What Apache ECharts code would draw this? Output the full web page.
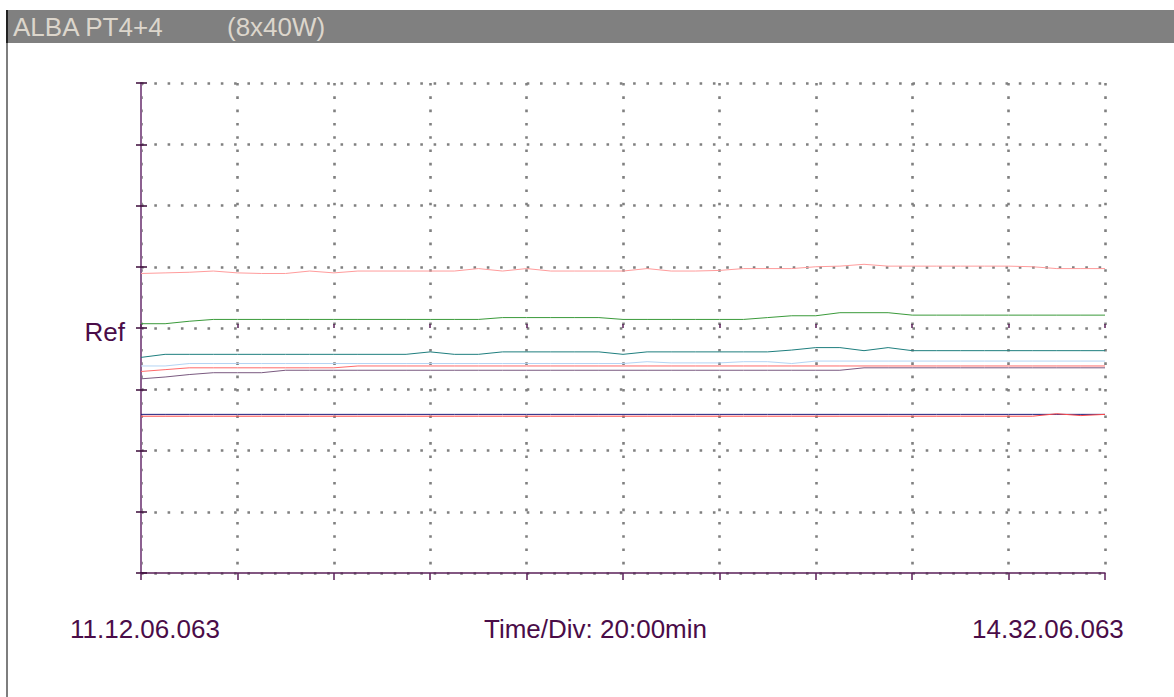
<!DOCTYPE html>
<html>
<head>
<meta charset="utf-8">
<script src="https://cdn.jsdelivr.net/npm/echarts@6/dist/echarts.min.js"></script>
<style>
html,body{margin:0;padding:0;background:#fff;}
#chart{width:1174px;height:697px;}
</style>
</head>
<body>
<div id="chart"></div>
<script>
// Time in minutes from start (11.12.06.063), 5‑minute samples
const minutes = [0,5,10,15,20,25,30,35,40,45,50,55,60,65,70,75,80,85,90,95,100,105,110,115,120,125,130,135,140,145,150,155,160,165,170,175,180,185,190,195,200];

// Trace values in divisions relative to Ref
const tracePink = [0.89,0.90,0.91,0.93,0.90,0.89,0.89,0.93,0.90,0.93,0.93,0.93,0.93,0.93,0.97,0.93,0.97,0.93,0.93,0.93,0.93,0.97,0.93,0.93,0.94,0.97,0.97,0.97,1.00,1.01,1.04,1.01,1.01,1.01,1.01,1.01,1.01,1.00,0.97,0.97,0.97];
const traceGreen = [0.07,0.07,0.11,0.14,0.14,0.14,0.14,0.14,0.14,0.14,0.14,0.14,0.14,0.14,0.14,0.17,0.17,0.17,0.17,0.17,0.14,0.14,0.14,0.14,0.14,0.14,0.17,0.20,0.20,0.25,0.25,0.25,0.21,0.21,0.21,0.21,0.21,0.21,0.21,0.21,0.21];
const traceTeal = [-0.48,-0.43,-0.43,-0.43,-0.43,-0.43,-0.43,-0.43,-0.43,-0.43,-0.43,-0.43,-0.39,-0.43,-0.43,-0.39,-0.39,-0.39,-0.39,-0.39,-0.43,-0.39,-0.39,-0.39,-0.39,-0.39,-0.39,-0.36,-0.32,-0.32,-0.37,-0.32,-0.37,-0.37,-0.37,-0.37,-0.37,-0.37,-0.37,-0.37,-0.37];
const traceLightBlue = [-0.62,-0.62,-0.58,-0.58,-0.58,-0.58,-0.58,-0.58,-0.58,-0.58,-0.58,-0.58,-0.58,-0.58,-0.58,-0.58,-0.58,-0.58,-0.58,-0.58,-0.58,-0.55,-0.57,-0.57,-0.57,-0.55,-0.55,-0.58,-0.54,-0.54,-0.54,-0.54,-0.54,-0.54,-0.54,-0.54,-0.54,-0.54,-0.54,-0.54,-0.54];
const traceRed = [-0.71,-0.68,-0.65,-0.65,-0.65,-0.65,-0.65,-0.65,-0.65,-0.62,-0.62,-0.62,-0.62,-0.62,-0.62,-0.62,-0.62,-0.62,-0.62,-0.62,-0.62,-0.62,-0.62,-0.62,-0.62,-0.62,-0.62,-0.62,-0.62,-0.62,-0.62,-0.62,-0.62,-0.62,-0.62,-0.62,-0.62,-0.62,-0.62,-0.62,-0.62];
const tracePurple = [-0.83,-0.80,-0.76,-0.73,-0.73,-0.73,-0.69,-0.69,-0.69,-0.69,-0.69,-0.69,-0.69,-0.69,-0.69,-0.69,-0.69,-0.69,-0.69,-0.69,-0.69,-0.69,-0.69,-0.69,-0.69,-0.69,-0.69,-0.69,-0.69,-0.69,-0.65,-0.65,-0.65,-0.65,-0.65,-0.65,-0.65,-0.65,-0.65,-0.65,-0.65];
const traceNavy = [-1.41,-1.41,-1.41,-1.41,-1.41,-1.41,-1.41,-1.41,-1.41,-1.41,-1.41,-1.41,-1.41,-1.41,-1.41,-1.41,-1.41,-1.41,-1.41,-1.41,-1.41,-1.41,-1.41,-1.41,-1.41,-1.41,-1.41,-1.41,-1.41,-1.41,-1.41,-1.41,-1.41,-1.41,-1.41,-1.41,-1.41,-1.41,-1.41,-1.41,-1.41];
const traceRedLow = [-1.44,-1.44,-1.44,-1.44,-1.44,-1.44,-1.44,-1.44,-1.44,-1.44,-1.44,-1.44,-1.44,-1.44,-1.44,-1.44,-1.44,-1.44,-1.44,-1.44,-1.44,-1.44,-1.44,-1.44,-1.44,-1.44,-1.44,-1.44,-1.44,-1.44,-1.44,-1.44,-1.44,-1.44,-1.44,-1.44,-1.44,-1.44,-1.40,-1.43,-1.41];

const titleLeft = 'ALBA PT4+4';
const titleRight = '(8x40W)';
const startLabel = '11.12.06.063';
const endLabel = '14.32.06.063';
const divLabel = 'Time/Div: 20:00min';
const refLabel = 'Ref';

const traces = [
  {data: tracePink, color: '#ff9c9c'},
  {data: traceGreen, color: '#3a9a3a'},
  {data: traceTeal, color: '#1e7e7e'},
  {data: traceLightBlue, color: '#b4d4f4'},
  {data: traceRed, color: '#ff6a6a'},
  {data: tracePurple, color: '#7a5a80'},
  {data: traceNavy, color: '#1c1c7c'},
  {data: traceRedLow, color: '#ff4a4a'}
];

const FONT = '"Liberation Sans", Arial, sans-serif';
const TXT = '#4a0c48';
const dotted = {type: [2.6, 10.7], width: 2.6, color: '#808080'};

const chart = echarts.init(document.getElementById('chart'), null, {renderer: 'svg'});
chart.setOption({
  animation: false,
  backgroundColor: '#ffffff',
  grid: {left: 141, right: 69, top: 83, bottom: 124, containLabel: false},
  xAxis: [
    {type: 'value', min: 0, max: 200, interval: 20, position: 'bottom',
     axisLine: {show: true, onZero: false, lineStyle: {color: '#5a1f58', width: 1.5}},
     axisTick: {show: true, length: 7, lineStyle: {color: '#5a1f58', width: 1.5}},
     axisLabel: {show: false},
     splitLine: {show: true, lineStyle: dotted}},
    {type: 'value', min: 0, max: 200, interval: 20, position: 'bottom',
     axisLine: {show: false},
     axisTick: {show: true, inside: true, length: 4, lineStyle: {color: '#5a1f58', width: 1.5}},
     axisLabel: {show: false}, splitLine: {show: false}}
  ],
  yAxis: [
    {type: 'value', min: -4, max: 4, interval: 1, position: 'left',
     axisLine: {show: true, onZero: false, lineStyle: {color: '#8c6090', width: 2}},
     axisTick: {show: true, length: 5, lineStyle: {color: '#3a0a38', width: 1.5}},
     axisLabel: {show: true, margin: 16, color: TXT, fontFamily: FONT, fontSize: 26,
       formatter: v => (v === 0 ? '{r|' + refLabel + '}' : ''),
       rich: {r: {color: TXT, fontFamily: FONT, fontSize: 26, padding: [8, 0, 0, 0]}}},
     splitLine: {show: true, lineStyle: dotted}},
    {type: 'value', min: -4, max: 4, interval: 1, position: 'left',
     axisLine: {show: false},
     axisTick: {show: true, inside: true, length: 6, lineStyle: {color: '#3a0a38', width: 1.5}},
     axisLabel: {show: false}, splitLine: {show: false}}
  ],
  series: traces.map(t => ({
    type: 'line',
    xAxisIndex: 0, yAxisIndex: 0,
    data: minutes.map((m, i) => [m, t.data[i]]),
    showSymbol: false,
    symbol: 'none',
    lineStyle: {color: t.color, width: 1},
    itemStyle: {color: t.color}
  })),
  graphic: [
    {type: 'rect', shape: {x: 8, y: 10, width: 1166, height: 33}, style: {fill: '#808080'}, silent: true},
    {type: 'rect', shape: {x: 6, y: 10, width: 2, height: 687}, style: {fill: '#7e7e7e'}, silent: true},
    {type: 'rect', shape: {x: 6, y: 10, width: 2, height: 33}, style: {fill: '#222222'}, silent: true},
    {type: 'text', x: 13, y: 27, style: {text: titleLeft, fill: '#dcd6cc', font: '26px ' + FONT, verticalAlign: 'middle'}},
    {type: 'text', x: 227, y: 27, style: {text: titleRight, fill: '#dcd6cc', font: '26px ' + FONT, verticalAlign: 'middle'}},
    {type: 'text', x: 70, y: 629, style: {text: startLabel, fill: TXT, font: '26px ' + FONT, verticalAlign: 'middle'}},
    {type: 'text', x: 484, y: 629, style: {text: divLabel, fill: TXT, font: '26px ' + FONT, verticalAlign: 'middle'}},
    {type: 'text', x: 972, y: 629, style: {text: endLabel, fill: TXT, font: '26px ' + FONT, verticalAlign: 'middle'}}
  ]
});
</script>
</body>
</html>
